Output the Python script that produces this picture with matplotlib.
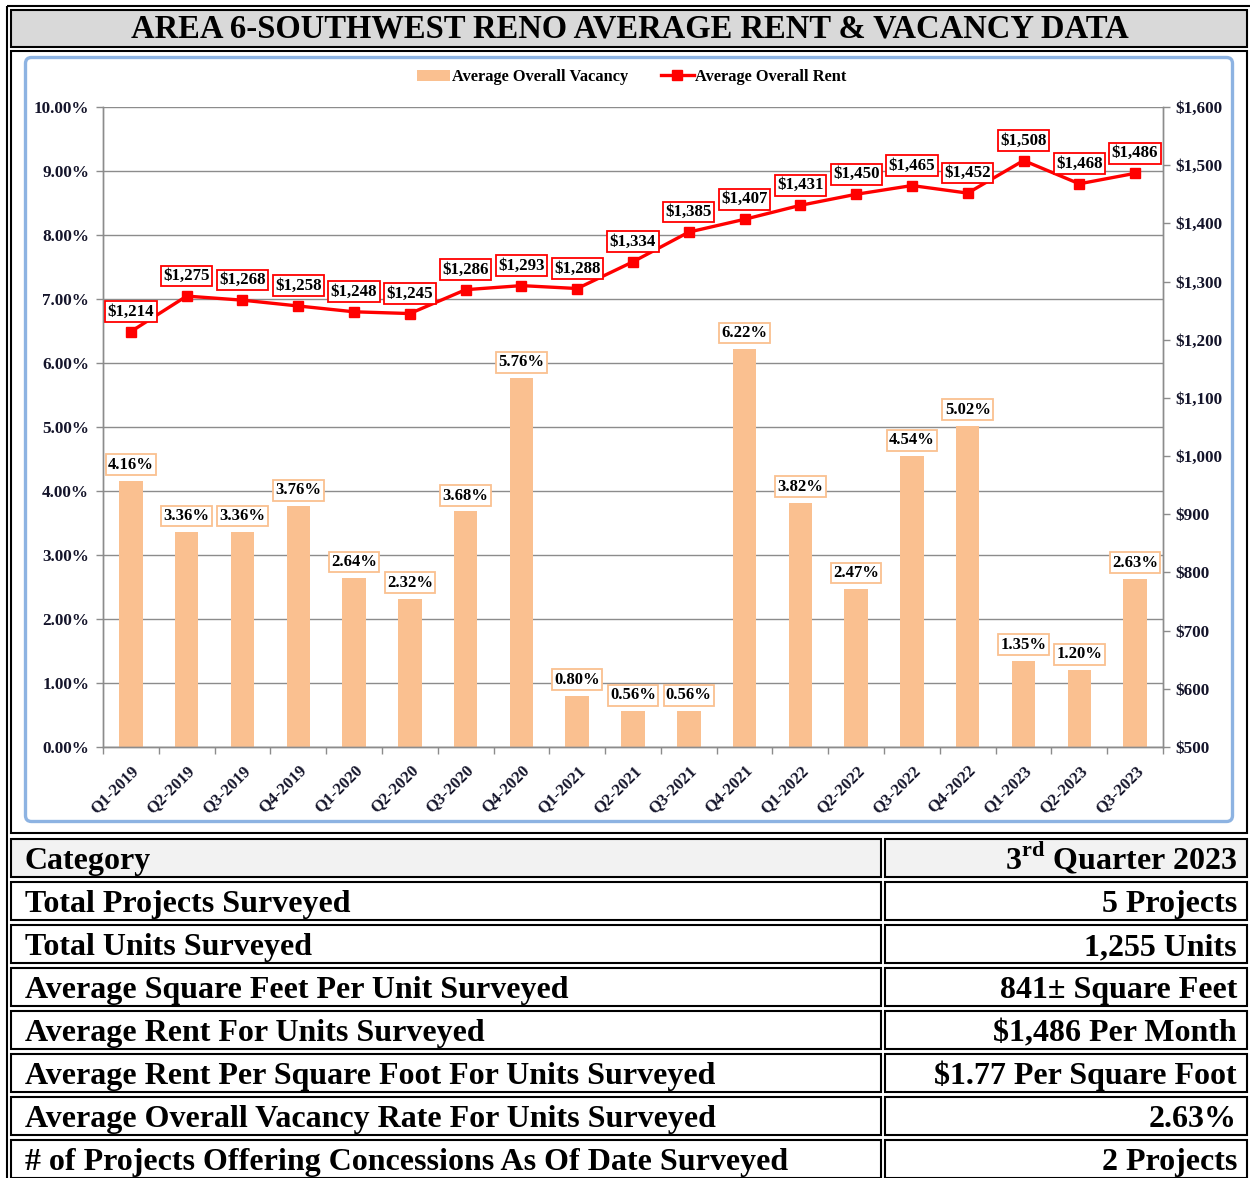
import matplotlib
matplotlib.use("Agg")
import matplotlib.pyplot as plt
from matplotlib.patches import Rectangle, FancyBboxPatch, Patch
from matplotlib.lines import Line2D
from matplotlib.ticker import FixedLocator

plt.rcParams['font.family'] = ['Liberation Serif', 'DejaVu Serif']
plt.rcParams['font.weight'] = 'bold'
plt.rcParams['mathtext.fontset'] = 'custom'
plt.rcParams['mathtext.rm'] = 'Liberation Serif:bold'
plt.rcParams['mathtext.bf'] = 'Liberation Serif:bold'

# ---------------- data ----------------
title = "AREA 6-SOUTHWEST RENO AVERAGE RENT & VACANCY DATA"
quarters = ['Q1-2019', 'Q2-2019', 'Q3-2019', 'Q4-2019',
            'Q1-2020', 'Q2-2020', 'Q3-2020', 'Q4-2020',
            'Q1-2021', 'Q2-2021', 'Q3-2021', 'Q4-2021',
            'Q1-2022', 'Q2-2022', 'Q3-2022', 'Q4-2022',
            'Q1-2023', 'Q2-2023', 'Q3-2023']
vacancy = [4.16, 3.36, 3.36, 3.76, 2.64, 2.32, 3.68, 5.76, 0.80, 0.56,
           0.56, 6.22, 3.82, 2.47, 4.54, 5.02, 1.35, 1.20, 2.63]
rent = [1214, 1275, 1268, 1258, 1248, 1245, 1286, 1293, 1288, 1334,
        1385, 1407, 1431, 1450, 1465, 1452, 1508, 1468, 1486]
vac_ticks = [0, 1, 2, 3, 4, 5, 6, 7, 8, 9, 10]
rent_ticks = [500, 600, 700, 800, 900, 1000, 1100, 1200, 1300, 1400, 1500, 1600]
series_names = ['Average Overall Vacancy', 'Average Overall Rent']

table_header = ['Category', '3$^{\\mathrm{rd}}$ Quarter 2023']
table_categories = ['Total Projects Surveyed',
                    'Total Units Surveyed',
                    'Average Square Feet Per Unit Surveyed',
                    'Average Rent For Units Surveyed',
                    'Average Rent Per Square Foot For Units Surveyed',
                    'Average Overall Vacancy Rate For Units Surveyed',
                    '# of Projects Offering Concessions As Of Date Surveyed']
table_values = ['5 Projects', '1,255 Units', '841\u00b1 Square Feet',
                '$1,486 Per Month', '$1.77 Per Square Foot', '2.63%',
                '2 Projects']

# ---------------- styles ----------------
W, H = 1250, 1178
BAR = '#FAC090'
RED = '#FF0000'
GRID = '#8C8C8C'
TXT = '#14142a'

fig = plt.figure(figsize=(W / 100, H / 100), dpi=100)

# background / frame axes in pixel coordinates
bg = fig.add_axes([0, 0, 1, 1])
bg.set_xlim(0, W)
bg.set_ylim(H, 0)
bg.axis('off')
bg.set_zorder(0)


def box(x0, y0, x1, y1, fc='none', lw=1.5, ec='black', z=1):
    bg.add_patch(Rectangle((x0, y0), x1 - x0, y1 - y0, facecolor=fc,
                           edgecolor=ec, lw=lw, zorder=z))


# outer frame
box(7, 6, 1252, 1183, lw=1.5)
# title cell
box(11, 10, 1247, 47, fc='#D9D9D9')
# chart cell
box(11, 51, 1247, 833)
# blue rounded chart area
bg.add_patch(FancyBboxPatch((25.5, 57.5), 1207, 764,
                            boxstyle='round,pad=0,rounding_size=6',
                            facecolor='white', edgecolor='#8DB3E2', lw=2.4,
                            zorder=1))

# title text
t_title = bg.text(630, 29, title, ha='center', va='center', fontsize=21,
                  color='black', fontweight='bold', zorder=3)

# table
row_tops = [839 + 43 * k for k in range(8)]
left_texts = [table_header[0]] + table_categories
right_texts = [table_header[1]] + table_values
table_text_objs = []
for k, top in enumerate(row_tops):
    bot = top + 38
    fc = '#F2F2F2' if k == 0 else 'white'
    box(11, top, 881, bot, fc=fc)
    box(885, top, 1247, bot, fc=fc)
    tl = bg.text(25, bot - 8, left_texts[k], ha='left', va='baseline',
                 fontsize=20, color='black', zorder=3)
    tr = bg.text(1237, bot - 8, right_texts[k], ha='right', va='baseline',
                 fontsize=20, color='black', zorder=3)
    table_text_objs += [tl, tr]

# ---------------- chart ----------------
ax = fig.add_axes([103 / W, 1 - 747 / H, 1060 / W, 640 / H])
ax.set_zorder(2)
ax.patch.set_alpha(0)
x = list(range(len(quarters)))
ax.bar(x, vacancy, width=0.42, color=BAR, zorder=2)
ax.set_xlim(-0.5, len(quarters) - 0.5)
ax.set_ylim(vac_ticks[0], vac_ticks[-1])
ax.set_yticks(vac_ticks)
ax.set_yticklabels([f'{v:.2f}%' for v in vac_ticks])
ax.yaxis.grid(True, color=GRID, lw=1.0)
ax.set_axisbelow(True)
ax.set_xticks(x)
ax.set_xticklabels(quarters, rotation=45, ha='right', va='top',
                   rotation_mode='anchor')
ax.xaxis.set_minor_locator(FixedLocator([i - 0.5 for i in range(len(quarters) + 1)]))
ax.tick_params(axis='x', which='major', length=0, pad=11, labelsize=12,
               labelcolor=TXT)
ax.tick_params(axis='x', which='minor', length=5, color=GRID, width=1,
               direction='out')
ax.tick_params(axis='y', length=5, color=GRID, width=1, pad=5,
               labelsize=12.3, labelcolor=TXT)
for s in ['left', 'bottom', 'right']:
    ax.spines[s].set_color(GRID)
    ax.spines[s].set_linewidth(1.0)
ax.spines['top'].set_visible(False)

for xi, v in zip(x, vacancy):
    ax.annotate(f'{v:.2f}%', (xi, v), xytext=(0, 11.5),
                textcoords='offset points', ha='center', va='center',
                fontsize=12, color='black', zorder=4,
                bbox=dict(boxstyle='square,pad=0.14', fc='white', ec=BAR, lw=1.3))

ax2 = ax.twinx()
ax2.set_ylim(rent_ticks[0], rent_ticks[-1])
ax2.set_yticks(rent_ticks)
ax2.set_yticklabels([f'${v:,}' for v in rent_ticks])
ax2.tick_params(axis='y', length=5, color=GRID, width=1, pad=4,
                labelsize=12.3, labelcolor=TXT)
for s in ['left', 'bottom', 'right']:
    ax2.spines[s].set_color(GRID)
    ax2.spines[s].set_linewidth(1.0)
ax2.spines['top'].set_visible(False)
ax2.plot(x, rent, color=RED, lw=2.4, marker='s', markersize=7, zorder=3)
for xi, v in zip(x, rent):
    ax2.annotate(f'${v:,}', (xi, v), xytext=(0, 14.5),
                 textcoords='offset points', ha='center', va='center',
                 fontsize=12.2, color='black', zorder=5,
                 bbox=dict(boxstyle='square,pad=0.14', fc='white', ec=RED, lw=1.3))

handles = [Patch(facecolor=BAR, edgecolor='none'),
           Line2D([], [], color=RED, lw=2.4, marker='s', markersize=7)]
fig.legend(handles, series_names, loc='center', ncol=2, frameon=False,
           bbox_to_anchor=(632 / W, 1 - 77 / H), fontsize=11.8,
           handlelength=2.0, handletextpad=0.1, columnspacing=2.0)

# ---------------- fit text widths ----------------
fig.canvas.draw()
r = fig.canvas.get_renderer()


def width_of(t):
    return t.get_window_extent(renderer=r).width


# title: fit to ~995 px
t_title.set_fontsize(t_title.get_fontsize() * 995 / width_of(t_title))
# table: fit the longest row to ~762 px and use that size for all
longest = table_text_objs[-2]
size = longest.get_fontsize() * 762 / width_of(longest)
for t in table_text_objs:
    t.set_fontsize(size)

fig.savefig('out.png', dpi=100)
